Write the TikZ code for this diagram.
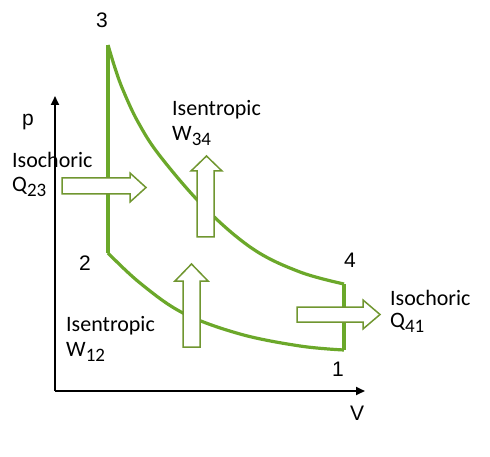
\documentclass[tikz,border=0pt]{standalone}
\usepackage{fontspec}
\setmainfont{Carlito}
\newfontfamily\arialf{Liberation Sans}
\usetikzlibrary{arrows.meta}
\definecolor{curvegreen}{RGB}{107,168,42}
\definecolor{arrowgreen}{RGB}{112,150,48}
\tikzset{
  axis/.style={line width=2.2pt,-{Triangle[length=9pt,width=8pt]}},
  cycle/.style={curvegreen,line width=3.2pt,line join=round},
  blockarrow/.style={arrowgreen,line width=1.5pt,fill=white,line join=miter},
  lab/.style={font=\fontsize{22}{24}\selectfont,anchor=west,inner sep=0pt},
  num/.style={font=\arialf\fontsize{21}{23}\selectfont,inner sep=0pt},
}
\newcommand{\sbs}[1]{\textsubscript{\fontsize{19}{20}\selectfont #1}}
\begin{document}
\begin{tikzpicture}[x=1pt,y=-1pt]
\useasboundingbox (0,0) rectangle (490,457);
% axes
\coordinate (O) at (55,391);
\coordinate (Ptop) at (55,96);
\coordinate (Vend) at (365,391);
\draw[axis] (O) -- (Ptop);
\draw[axis] (O) -- (Vend);
% cycle
\coordinate (p3) at (108,45);
\coordinate (p2) at (108,253);
\coordinate (p4) at (344,284);
\coordinate (p1) at (344,350);
\draw[cycle] (p4) -- (p1);
\draw[cycle] plot[smooth,tension=0.6] coordinates {(108,253) (140,283) (183,313) (240,334) (300,346) (344,350)};
\draw[cycle] (p2) -- (p3);
\draw[cycle] plot[smooth,tension=0.6] coordinates {(108,45) (115,68) (123,90) (138,122) (160,156) (205,208) (253,249) (300,272) (344,284)};
% block arrows
\draw[blockarrow] (62,178) -- (130,178) -- (130,173) -- (146,187.5) -- (130,202) -- (130,194) -- (62,194) -- cycle;
\draw[blockarrow] (197,237) -- (197,171) -- (191,171) -- (206.5,156) -- (222,171) -- (214,171) -- (214,237) -- cycle;
\draw[blockarrow] (183,347) -- (183,281) -- (175,281) -- (191.5,264) -- (208,281) -- (200,281) -- (200,347) -- cycle;
\draw[blockarrow] (297,307) -- (363,307) -- (363,300) -- (380,314.5) -- (363,329) -- (363,322) -- (297,322) -- cycle;
% labels
\node[num] (n3) at (102,20) {3};
\node[num] (n2) at (85,263) {2};
\node[num] (n4) at (350,260) {4};
\node[num] (n1) at (338,369) {1};
\node[num] (nV) at (357,413) {V};
\node[num] (np) at (28,122) {p};
\node[lab] (iso1) at (12,160) {Isochoric};
\node[lab] (q23) at (12,187) {Q\sbs{23}};
\node[lab] (ise1) at (172,110) {Isentropic};
\node[lab] (w34) at (172,136) {W\sbs{34}};
\node[lab] (iso2) at (390,298) {Isochoric};
\node[lab] (q41) at (390,323) {Q\sbs{41}};
\node[lab] (ise2) at (66,326) {Isentropic};
\node[lab] (w12) at (66,352) {W\sbs{12}};
\end{tikzpicture}
\end{document}
